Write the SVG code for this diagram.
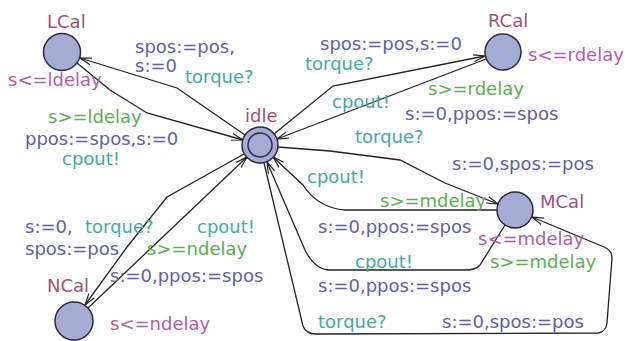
<svg xmlns="http://www.w3.org/2000/svg" width="625" height="341" viewBox="0 0 625 341">
<defs>
<marker id="arr" viewBox="0 0 12 8" refX="11.5" refY="4" markerWidth="12" markerHeight="8" markerUnits="userSpaceOnUse" orient="auto">
<path d="M0,0.5 L11.5,4 L0,7.5" fill="none" stroke="#222" stroke-width="1.2"/>
</marker>
<style>
text{font-family:"DejaVu Sans","Liberation Sans",sans-serif;font-size:18px}
.loc{fill:#a4acd4;stroke:#2a2a3a;stroke-width:1.5}
.name{fill:#9c5478}
.inv{fill:#b060a8}
.grd{fill:#5cb050}
.syn{fill:#48a8a8}
.asg{fill:#62629e}
.e{fill:none;stroke:#222;stroke-width:1.3;marker-end:url(#arr)}
.e0{fill:none;stroke:#222;stroke-width:1.3}
</style>
</defs>
<rect width="625" height="341" fill="#fff"/>
<g id="connectors">
<path class="e" d="M245,135 L177,88 L80,58"/>
<path class="e" d="M77,63 L110,90 L147,113 L243,140"/>
<path class="e" d="M274,134 L333,86 L485,56"/>
<path class="e" d="M486,59 L277,139"/>
<path class="e" d="M278,147 L330,151 L400,160 L445,183 L498,204"/>
<path class="e" d="M497,210 L345,210 Q318,208 303,185 L273,157"/>
<path class="e" d="M505,225 L480,265 Q476,270 465,270 L330,270 Q315,270 305,250 L267,162"/>
<path class="e" d="M264,163 L303,326 Q306,334 316,334 L598,333 Q606,332 607,323 L612,258 Q612,250 604,247 L532,217"/>
<path class="e" d="M244,154 L167,197 L127,247 L85,305"/>
<path class="e" d="M88,308 L247,157"/>
</g>
<g id="LCal">
<circle class="loc" cx="62" cy="52" r="18.5"/>
<text class="name" x="47" y="28">LCal</text>
<text class="inv" x="8" y="86">s&lt;=ldelay</text>
</g>
<g id="RCal">
<circle class="loc" cx="503" cy="52" r="18"/>
<text class="name" x="488" y="27">RCal</text>
<text class="inv" x="528" y="61">s&lt;=rdelay</text>
</g>
<g id="idle">
<circle class="loc" cx="260" cy="145" r="18"/>
<circle cx="260" cy="145" r="12" fill="none" stroke="#2a2a50" stroke-width="1.5"/>
<text class="name" x="245" y="122">idle</text>
</g>
<g id="MCal">
<circle class="loc" cx="515" cy="210" r="18"/>
<text class="name" x="540" y="208">MCal</text>
<text class="inv" x="478" y="245">s&lt;=mdelay</text>
</g>
<g id="NCal">
<circle class="loc" cx="74" cy="321" r="19"/>
<text class="name" x="47" y="292">NCal</text>
<text class="inv" x="110" y="330">s&lt;=ndelay</text>
</g>
<g id="labels">
<text class="asg" x="135" y="53">spos:=pos,</text>
<text class="asg" x="135" y="72">s:=0</text>
<text class="syn" x="185" y="83">torque?</text>
<text class="grd" x="48" y="123">s&gt;=ldelay</text>
<text class="asg" x="25" y="145">ppos:=spos,s:=0</text>
<text class="syn" x="62" y="165">cpout!</text>
<text class="asg" x="320" y="50">spos:=pos,s:=0</text>
<text class="syn" x="305" y="70">torque?</text>
<text class="grd" x="428" y="95">s&gt;=rdelay</text>
<text class="syn" x="332" y="108">cpout!</text>
<text class="asg" x="405" y="120">s:=0,ppos:=spos</text>
<text class="syn" x="355" y="143">torque?</text>
<text class="asg" x="452" y="170">s:=0,spos:=pos</text>
<text class="syn" x="307" y="183">cpout!</text>
<text class="grd" x="380" y="207">s&gt;=mdelay</text>
<text class="asg" x="318" y="233">s:=0,ppos:=spos</text>
<text class="syn" x="355" y="268">cpout!</text>
<text class="grd" x="490" y="268">s&gt;=mdelay</text>
<text class="asg" x="318" y="292">s:=0,ppos:=spos</text>
<text class="syn" x="318" y="328">torque?</text>
<text class="asg" x="442" y="328">s:=0,spos:=pos</text>
<text class="asg" x="25" y="233">s:=0,</text>
<text class="asg" x="25" y="255">spos:=pos</text>
<text class="syn" x="85" y="233">torque?</text>
<text class="syn" x="197" y="233">cpout!</text>
<text class="grd" x="147" y="255">s&gt;=ndelay</text>
<text class="asg" x="110" y="282">s:=0,ppos:=spos</text>
</g>
</svg>
